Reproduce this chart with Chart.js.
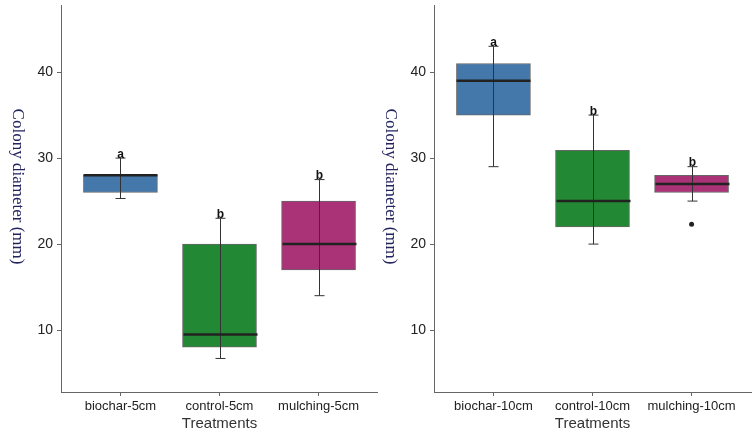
<!DOCTYPE html>
<html lang="en">
<head>
<meta charset="utf-8">
<title>Colony diameter by treatment</title>
<script src="https://cdn.jsdelivr.net/npm/chart.js"></script>
<style>
  body { margin: 0; background: #fff; }
  .panel { position: absolute; top: 0; height: 438px; }
</style>
</head>
<body>
<div class="panel" style="left: 0; width: 378px;"><canvas id="left"></canvas></div>
<div class="panel" style="left: 373px; width: 382px;"><canvas id="right"></canvas></div>

<script>
// shared axis / colours
const yTicks = [10, 20, 30, 40];
const boxColors = ['#4477AA', '#228833', '#AA3377'];
const yTitle = 'Colony diameter (mm)';

// 5 cm panel
const cats5 = ['biochar-5cm', 'control-5cm', 'mulching-5cm'];
const lo5  = [25.3, 6.7, 14];
const q1_5 = [26, 8, 17];
const med5 = [28, 9.5, 20];
const q3_5 = [28, 20, 25];
const hi5  = [30, 23, 27.5];
const sig5 = ['a', 'b', 'b'];
const out5 = [[], [], []];

// 10 cm panel
const cats10 = ['biochar-10cm', 'control-10cm', 'mulching-10cm'];
const lo10  = [29, 20, 25];
const q1_10 = [35, 22, 26];
const med10 = [39, 25, 27];
const q3_10 = [41, 30.9, 28];
const hi10  = [43, 35, 29];
const sig10 = ['a', 'b', 'b'];
const out10 = [[], [], [22.3]];

const sans = 'Liberation Sans, Arial, sans-serif';

// whiskers, caps, medians and letters, drawn through the scales
const boxExtras = {
    id: 'boxExtras',
    afterDatasetsDraw(chart, args, opts) {
        const ctx = chart.ctx;
        const xs = chart.scales.x, ys = chart.scales.y;
        const bars = chart.getDatasetMeta(0).data;
        ctx.save();
        opts.lo.forEach((v, i) => {
            const x = Math.round(xs.getPixelForValue(i)) + 0.5;
            const top = ys.getPixelForValue(opts.hi[i]);
            const bot = ys.getPixelForValue(v);
            ctx.strokeStyle = '#333';
            ctx.lineWidth = 1;
            ctx.beginPath();
            ctx.moveTo(x, top); ctx.lineTo(x, bot);
            ctx.moveTo(x - 5, top); ctx.lineTo(x + 5, top);
            ctx.moveTo(x - 5, bot); ctx.lineTo(x + 5, bot);
            ctx.stroke();

            const half = bars[i].width / 2;
            const ym = ys.getPixelForValue(opts.med[i]);
            ctx.strokeStyle = '#222';
            ctx.lineWidth = 2.5;
            ctx.beginPath();
            ctx.moveTo(x - half, ym); ctx.lineTo(x + half, ym);
            ctx.stroke();

            ctx.fillStyle = '#111';
            ctx.font = 'bold 12px ' + sans;
            ctx.textAlign = 'center';
            ctx.textBaseline = 'alphabetic';
            ctx.fillText(opts.sig[i], x, top - 0.5);
        });
        ctx.restore();
    },
    // y title reads top to bottom, like the original figure
    afterDraw(chart) {
        const ctx = chart.ctx;
        const area = chart.chartArea;
        ctx.save();
        ctx.translate(17, (area.top + area.bottom) / 2 - 12);
        ctx.rotate(Math.PI / 2);
        ctx.font = '17px Liberation Serif, Times New Roman, serif';
        ctx.fillStyle = '#23235e';
        ctx.textAlign = 'center';
        ctx.textBaseline = 'middle';
        ctx.fillText(yTitle, 0, 0);
        ctx.restore();
    }
};

function makePanel(id, cats, lo, q1, med, q3, hi, sig, outs, padRight) {
    const boxes = cats.map((c, i) => ({ x: i, y: [q1[i], q3[i]] }));
    const outliers = [];
    outs.forEach((list, i) => list.forEach(v => outliers.push({ x: i, y: v })));

    new Chart(document.getElementById(id), {
        type: 'bar',
        data: {
            datasets: [{
                data: boxes,
                backgroundColor: boxColors,
                borderColor: '#666',
                borderWidth: 1,
                borderSkipped: false,
                barThickness: 74
            }, {
                type: 'scatter',
                data: outliers,
                pointRadius: 2.5,
                pointBackgroundColor: '#222',
                pointBorderWidth: 0
            }]
        },
        options: {
            responsive: true,
            maintainAspectRatio: false,
            animation: false,
            devicePixelRatio: 1,
            layout: { padding: { left: 0, top: 5, right: padRight, bottom: 0 } },
            plugins: {
                legend: { display: false },
                tooltip: { enabled: false },
                boxExtras: { lo: lo, med: med, hi: hi, sig: sig }
            },
            scales: {
                x: {
                    type: 'linear',
                    min: -0.6,
                    max: 2.6,
                    offset: false,
                    afterBuildTicks: s => { s.ticks = cats.map((c, i) => ({ value: i })); },
                    ticks: {
                        callback: (v, i) => cats[i],
                        font: { family: sans, size: 13 },
                        color: '#222',
                        padding: 3,
                        maxRotation: 0,
                        autoSkip: false
                    },
                    grid: { offset: false, drawOnChartArea: false, tickLength: 4, color: '#666' },
                    border: { color: '#666' },
                    title: {
                        display: true,
                        text: 'Treatments',
                        font: { family: sans, size: 15 },
                        color: '#333',
                        padding: { top: 0, bottom: 5 }
                    },
                    afterFit: s => { s.height = 46; }
                },
                y: {
                    min: 2.8,
                    max: 47.8,
                    afterBuildTicks: s => { s.ticks = yTicks.map(v => ({ value: v })); },
                    ticks: { font: { family: sans, size: 14 }, color: '#222', padding: 4 },
                    grid: { drawOnChartArea: false, tickLength: 4, color: '#666' },
                    border: { color: '#666' },
                    afterFit: s => { s.width = 61; s.paddingTop = 0; s.paddingBottom = 0; }
                }
            }
        },
        plugins: [boxExtras]
    });
}

makePanel('left', cats5, lo5, q1_5, med5, q3_5, hi5, sig5, out5, 0);
makePanel('right', cats10, lo10, q1_10, med10, q3_10, hi10, sig10, out10, 4);
</script>
</body>
</html>
